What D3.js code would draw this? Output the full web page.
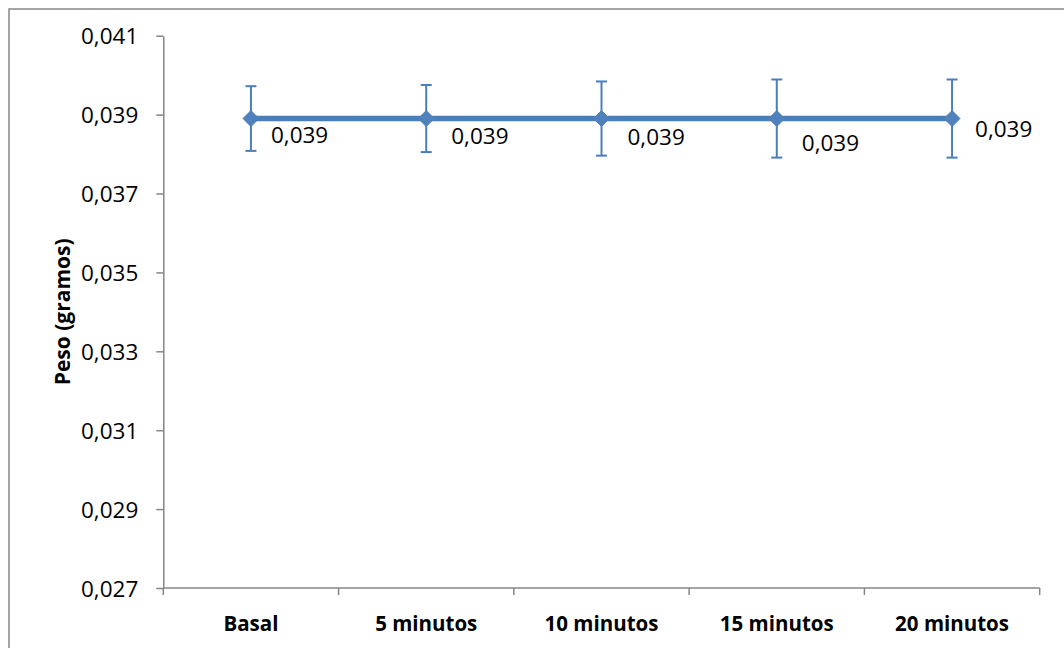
<!DOCTYPE html>
<html>
<head>
<meta charset="utf-8">
<script src="https://cdn.jsdelivr.net/npm/d3@7"></script>
<style>
  html, body { margin: 0; padding: 0; background: #fff; }
  svg { display: block; }
</style>
</head>
<body>
<svg id="chart" width="1064" height="648"></svg>
<script>
// ---- data ----
const categories = ["Basal", "5 minutos", "10 minutos", "15 minutos", "20 minutos"];
const values = [0.0389, 0.0389, 0.0389, 0.0389, 0.0389];
const errors = [0.00082, 0.00085, 0.00094, 0.00099, 0.00099];
const dataLabels = ["0,039", "0,039", "0,039", "0,039", "0,039"];
const yTicks = [0.027, 0.029, 0.031, 0.033, 0.035, 0.037, 0.039, 0.041];
const yTickLabels = ["0,027", "0,029", "0,031", "0,033", "0,035", "0,037", "0,039", "0,041"];
const yTitle = "Peso (gramos)";
// label placement (pixels relative to the point), as in the reference
const labelDx = [20, 25, 26, 25, 23];
const labelDy = [24.5, 25, 26.5, 32, 18.5];

// ---- layout ----
const svg = d3.select("#chart");
const plotL = 163.3, plotR = 1039.7, plotT = 35.7, plotB = 588;
const axisColor = "#868686";
const lineColor = "#4A7EBB";
const markerColor = "#4F81BD";
const font = "'Open Sans', 'Noto Sans', sans-serif";

// outer border
svg.append("rect")
  .attr("x", 9).attr("y", 9)
  .attr("width", 1100).attr("height", 700)
  .attr("fill", "#fff")
  .attr("stroke", axisColor).attr("stroke-width", 1.5);

const x = d3.scaleBand().domain(categories).range([plotL, plotR]).padding(0);
const y = d3.scaleLinear().domain([0.027, 0.041]).range([plotB, plotT]);

// y axis
const yAxis = svg.append("g")
  .attr("transform", `translate(${plotL},0)`)
  .call(d3.axisLeft(y).tickValues(yTicks)
    .tickFormat((d, i) => yTickLabels[i])
    .tickSizeOuter(0).tickSizeInner(7).tickPadding(18));
yAxis.select(".domain").attr("stroke", axisColor).attr("stroke-width", 1.5);
yAxis.selectAll(".tick line").attr("stroke", axisColor).attr("stroke-width", 1.5);
yAxis.selectAll(".tick text")
  .attr("font-family", font).attr("font-size", 22.5).attr("fill", "#000")
  .attr("dy", "0.36em");

// x axis: ticks at category boundaries
const xAxisG = svg.append("g").attr("transform", `translate(0,${plotB})`);
xAxisG.append("line")
  .attr("x1", plotL).attr("x2", plotR).attr("y1", 0).attr("y2", 0)
  .attr("stroke", axisColor).attr("stroke-width", 1.5);
const boundaries = categories.map(c => x(c)).concat([x(categories[categories.length - 1]) + x.bandwidth()]);
xAxisG.selectAll("line.tk").data(boundaries).join("line")
  .attr("class", "tk")
  .attr("x1", d => d).attr("x2", d => d)
  .attr("y1", 0).attr("y2", 7)
  .attr("stroke", axisColor).attr("stroke-width", 1.5);
xAxisG.selectAll("text").data(categories).join("text")
  .attr("x", d => x(d) + x.bandwidth() / 2)
  .attr("y", 43)
  .attr("text-anchor", "middle")
  .attr("font-family", font).attr("font-weight", "bold")
  .attr("font-size", 20.5).attr("fill", "#000")
  .text(d => d);

// y title
svg.append("text")
  .attr("transform", `translate(70,${(plotT + plotB) / 2}) rotate(-90)`)
  .attr("text-anchor", "middle")
  .attr("font-family", font).attr("font-weight", "bold")
  .attr("font-size", 21).attr("fill", "#000")
  .text(yTitle);

const cx = i => x(categories[i]) + x.bandwidth() / 2;

// error bars
const eb = svg.append("g").attr("stroke", lineColor).attr("stroke-width", 2).attr("fill", "none");
values.forEach((v, i) => {
  const xc = cx(i);
  eb.append("line").attr("x1", xc).attr("x2", xc).attr("y1", y(v + errors[i])).attr("y2", y(v - errors[i]));
  eb.append("line").attr("x1", xc - 5.5).attr("x2", xc + 5.5).attr("y1", y(v + errors[i])).attr("y2", y(v + errors[i]));
  eb.append("line").attr("x1", xc - 5.5).attr("x2", xc + 5.5).attr("y1", y(v - errors[i])).attr("y2", y(v - errors[i]));
});

// line
const line = d3.line().x((d, i) => cx(i)).y(d => y(d));
svg.append("path")
  .datum(values)
  .attr("d", line)
  .attr("fill", "none")
  .attr("stroke", lineColor)
  .attr("stroke-width", 5.5)
  .attr("stroke-linejoin", "round");

// markers (diamonds)
const diamond = d3.symbol().type(d3.symbolDiamond2).size(162);
svg.selectAll("path.mk").data(values).join("path")
  .attr("class", "mk")
  .attr("d", diamond)
  .attr("transform", (d, i) => `translate(${cx(i)},${y(d)})`)
  .attr("fill", markerColor)
  .attr("stroke", markerColor).attr("stroke-width", 1);

// data labels
svg.selectAll("text.dl").data(values).join("text")
  .attr("class", "dl")
  .attr("x", (d, i) => cx(i) + labelDx[i])
  .attr("y", (d, i) => y(d) + labelDy[i])
  .attr("font-family", font).attr("font-size", 22.5).attr("fill", "#000")
  .text((d, i) => dataLabels[i]);
</script>
</body>
</html>
